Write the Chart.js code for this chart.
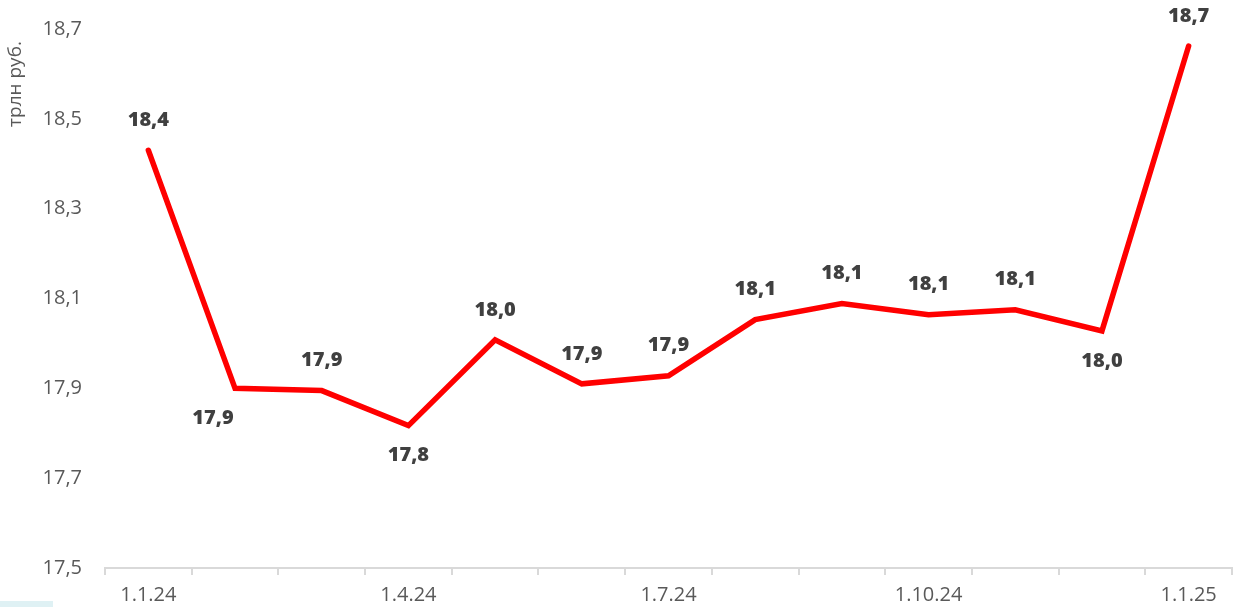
<!DOCTYPE html>
<html>
<head>
<meta charset="utf-8">
<script src="https://cdn.jsdelivr.net/npm/chart.js@4"></script>
<style>
  html, body { margin: 0; padding: 0; background: #fff; }
  #wrap { width: 1233px; height: 607px; position: relative; }
</style>
</head>
<body>
<div id="wrap"><canvas id="c"></canvas></div>
<script>
const months = ['1.1.24', '1.2.24', '1.3.24', '1.4.24', '1.5.24', '1.6.24', '1.7.24',
  '1.8.24', '1.9.24', '1.10.24', '1.11.24', '1.12.24', '1.1.25'];
const shownLabels = ['1.1.24', '1.4.24', '1.7.24', '1.10.24', '1.1.25'];
const values = [18.43, 17.90, 17.895, 17.817, 18.008, 17.91, 17.928,
  18.053, 18.089, 18.064, 18.075, 18.028, 18.662];
const yTitle = 'трлн руб.';

const fmt = (v) => v.toFixed(1).replace('.', ',');

// points whose value label sits under the line
const below = new Set([1, 3, 11]);

const labelPlugin = {
  id: 'valueLabels',
  afterDatasetsDraw(chart) {
    const ctx = chart.ctx;
    const meta = chart.getDatasetMeta(0);
    ctx.save();
    ctx.font = '800 20px "Open Sans"';
    ctx.fillStyle = '#404040';
    ctx.textAlign = 'center';
    ctx.textBaseline = 'middle';
    meta.data.forEach((pt, i) => {
      let dx = 0;
      if (i === 1) dx = -22;
      const dy = below.has(i) ? 30 : -30;
      ctx.fillText(fmt(values[i]), pt.x + dx, pt.y + dy);
    });
    // rotated axis title near the top
    ctx.font = '19px "Open Sans"';
    ctx.fillStyle = '#595959';
    ctx.translate(16, 84);
    ctx.rotate(-Math.PI / 2);
    ctx.fillText(yTitle, 0, 0);
    ctx.restore();
    // small tinted strip in the corner
    ctx.save();
    ctx.fillStyle = '#dff1f4';
    ctx.fillRect(0, 601, 53, 6);
    ctx.restore();
  }
};

new Chart(document.getElementById('c'), {
  type: 'line',
  data: {
    labels: months,
    datasets: [{
      data: values,
      borderColor: '#ff0000',
      borderWidth: 5.5,
      borderCapStyle: 'round',
      borderJoinStyle: 'miter',
      pointRadius: 0,
      tension: 0,
      fill: false
    }]
  },
  options: {
    responsive: true,
    maintainAspectRatio: false,
    animation: false,
    layout: { padding: { top: 29, right: 1, left: 0, bottom: 0 } },
    plugins: { legend: { display: false }, tooltip: { enabled: false } },
    scales: {
      x: {
        offset: true,
        grid: {
          offset: true,
          drawOnChartArea: false,
          drawTicks: true,
          tickLength: 7,
          color: '#d9d9d9',
          lineWidth: 2
        },
        border: { color: '#d9d9d9', width: 2 },
        ticks: {
          autoSkip: false,
          maxRotation: 0,
          padding: 8,
          color: '#595959',
          font: { family: 'Open Sans', size: 20 },
          callback: function (v, i) {
            const l = months[i];
            return shownLabels.includes(l) ? l : '';
          }
        },
        afterFit: (s) => { s.height = 39; }
      },
      y: {
        min: 17.5,
        max: 18.7,
        // invisible tick marks give the gap between labels and plot
        grid: { drawOnChartArea: false, tickLength: 23, color: 'rgba(0,0,0,0)' },
        border: { display: false },
        ticks: {
          stepSize: 0.2,
          padding: 0,
          color: '#595959',
          font: { family: 'Open Sans', size: 20 },
          callback: (v) => fmt(v)
        },
        afterFit: (s) => { s.width = 105; }
      }
    }
  },
  plugins: [labelPlugin]
});
</script>
</body>
</html>
